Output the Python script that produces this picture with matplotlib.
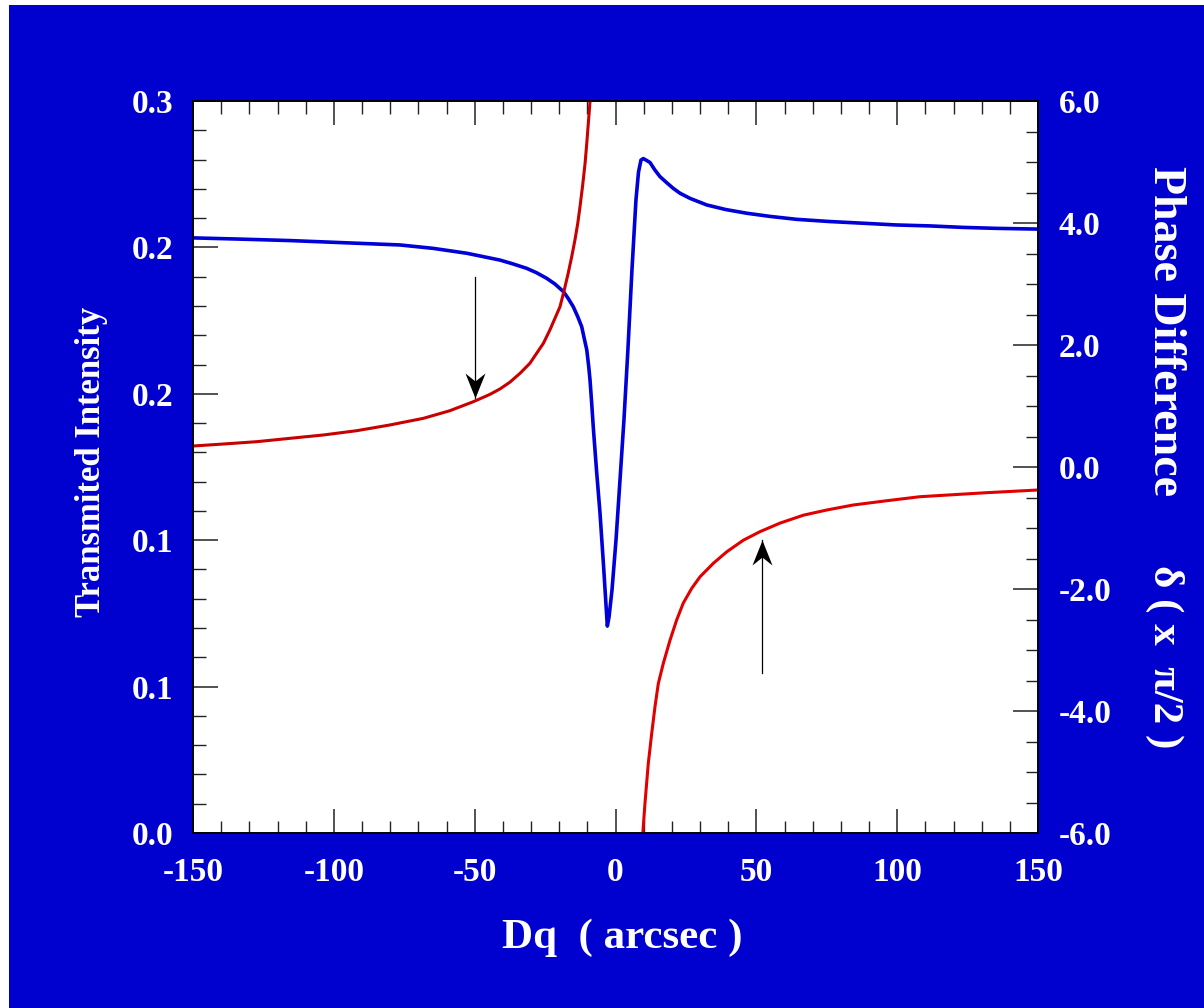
import matplotlib
matplotlib.use("Agg")
import matplotlib.pyplot as plt
from matplotlib.patches import Rectangle
from matplotlib.path import Path
from matplotlib.ticker import FixedLocator, MultipleLocator

plt.rcParams["axes.unicode_minus"] = False

# Transmitted intensity (left axis), blue curve
blue_x = [-150, -133.3, -115.6, -96.0, -76.5, -64.7, -52.8, -46.9, -41.0, -36.3,
          -31.5, -28.0, -24.4, -21.5, -18.5, -16.8, -15.0, -13.4, -12.0, -11.1,
          -10.2, -9.5, -9.05, -8.45, -7.9, -6.75, -5.5, -4.26, -3.37, -2.9,
          -2.3, -1.24, 0.18, 1.6, 3.0, 4.4, 5.84, 7.26, 8.17, 9.05,
          9.87, 10.8, 12.25, 14.0, 15.8, 18.2, 20.5, 22.9, 26.45, 32.4,
          39.2, 46.6, 54.9, 64.3, 76.1, 88.0, 99.6, 111.7, 123.4, 135.3, 150]
blue_y = [0.2439, 0.2434, 0.2428, 0.2419, 0.2410, 0.2396, 0.2376, 0.2362, 0.2348, 0.2332,
          0.2314, 0.2296, 0.2273, 0.2250, 0.2219, 0.2191, 0.2157, 0.2116, 0.2075, 0.2027,
          0.1980, 0.1911, 0.1857, 0.1761, 0.1665, 0.1488, 0.1311, 0.1098, 0.0934, 0.0848,
          0.0885, 0.0996, 0.1201, 0.1447, 0.1693, 0.1980, 0.2307, 0.2594, 0.2709, 0.2758,
          0.2764, 0.2758, 0.2748, 0.2717, 0.2690, 0.2665, 0.2642, 0.2622, 0.2601, 0.2574,
          0.2555, 0.2540, 0.2527, 0.2515, 0.2506, 0.2499, 0.2492, 0.2488, 0.2482, 0.2478, 0.2475]

# Phase difference (right axis), red curve, two branches
red_left_x = [-150, -139.2, -127.4, -115.6, -103.7, -91.9, -80.1, -68.2, -58.8, -50.5,
              -44.6, -41.0, -37.5, -33.9, -30.4, -28.0, -25.6, -23.3, -21.5, -19.7,
              -18.2, -16.8, -15.55, -14.4, -13.4, -12.6, -11.65, -10.8, -10.2, -9.65,
              -9.05, -8.85]
red_left_y = [0.344, 0.377, 0.415, 0.470, 0.525, 0.595, 0.689, 0.798, 0.923, 1.070,
              1.190, 1.280, 1.390, 1.536, 1.700, 1.864, 2.028, 2.246, 2.437, 2.628,
              2.901, 3.175, 3.447, 3.721, 3.995, 4.267, 4.623, 4.978, 5.306, 5.634,
              5.988, 6.4]
red_right_x = [9.5, 9.66, 10.47, 11.64, 12.85, 14.02, 15.2, 16.97, 19.35, 21.7,
               24.07, 27.05, 30.0, 34.7, 39.5, 45.4, 51.3, 58.4, 66.7, 75.0,
               84.4, 96.3, 108.1, 119.9, 131.8, 150]
red_right_y = [-6.4, -6.03, -5.51, -4.86, -4.37, -3.93, -3.55, -3.22, -2.84, -2.51,
               -2.23, -1.99, -1.80, -1.58, -1.39, -1.20, -1.06, -0.92, -0.79, -0.705,
               -0.623, -0.553, -0.487, -0.454, -0.421, -0.377]

x_ticks = [-150, -100, -50, 0, 50, 100, 150]
left_ticks = [0.0, 0.06, 0.12, 0.18, 0.24, 0.30]
left_tick_labels = ["0.0", "0.1", "0.1", "0.2", "0.2", "0.3"]
right_ticks = [-6, -4, -2, 0, 2, 4, 6]
right_tick_labels = ["-6.0", "-4.0", "-2.0", "0.0", "2.0", "4.0", "6.0"]

# arrows: (x, tail_y, tip_y) in left-axis units
arrows = [(-50, 0.2278, 0.1782), (52, 0.0657, 0.1201)]

BG = "#0000CF"
FONT = "Liberation Serif"


def head_marker(down):
    s = 1 if down else -1
    verts = [(0, 0), (-10, 25 * s), (0, 17 * s), (10, 25 * s), (0, 0)]
    codes = [Path.MOVETO, Path.LINETO, Path.LINETO, Path.LINETO, Path.CLOSEPOLY]
    return Path(verts, codes)


fig = plt.figure(figsize=(12.04, 10.08), dpi=100)
fig.patch.set_facecolor("white")
fig.patches.append(Rectangle((9 / 1204, 0), 1, 1 - 5 / 1008, transform=fig.transFigure,
                             facecolor=BG, edgecolor="none", zorder=-10))

ax = fig.add_axes([193 / 1204, 1 - 833 / 1008, 845 / 1204, 732 / 1008])
ax.set_facecolor("white")
ax2 = ax.twinx()

ax.plot(blue_x, blue_y, color="#0000D8", lw=2.6, zorder=3)
ax2.plot(red_left_x, red_left_y, color="#C80000", lw=2.2)
ax2.plot(red_right_x, red_right_y, color="#E00000", lw=2.2)

for x, y0, y1 in arrows:
    ax.plot([x, x], [y0, y1], color="black", lw=0.9, zorder=4)
    ax.plot([x], [y1], marker=head_marker(y1 < y0), markersize=36,
            color="black", markeredgewidth=0, zorder=5)

ax.set_xlim(-150, 150)
ax.set_ylim(0, 0.3)
ax2.set_ylim(-6, 6)

ax.xaxis.set_major_locator(FixedLocator(x_ticks))
ax.xaxis.set_minor_locator(MultipleLocator(10))
ax.yaxis.set_major_locator(FixedLocator(left_ticks))
ax.yaxis.set_minor_locator(MultipleLocator(0.012))
ax.set_yticklabels(left_tick_labels)
ax2.yaxis.set_major_locator(FixedLocator(right_ticks))
ax2.yaxis.set_minor_locator(MultipleLocator(0.5))
ax2.set_yticklabels(right_tick_labels)

ax.tick_params(axis="x", which="both", direction="in", top=True, bottom=True, color="#222222")
ax.tick_params(axis="x", which="major", length=17, width=1.1, pad=17)
ax.tick_params(axis="x", which="minor", length=9, width=1.0)
ax.tick_params(axis="y", which="both", direction="in", left=True, right=False, color="#222222")
ax.tick_params(axis="y", which="major", length=18, width=1.1, pad=14)
ax.tick_params(axis="y", which="minor", length=9, width=1.0)
ax2.tick_params(axis="y", which="both", direction="in", right=True, color="#222222")
ax2.tick_params(axis="y", which="major", length=18, width=1.1, pad=15)
ax2.tick_params(axis="y", which="minor", length=9, width=1.0)

for lab in ax.get_xticklabels() + ax.get_yticklabels() + ax2.get_yticklabels():
    lab.set_fontfamily(FONT)
    lab.set_fontweight("bold")
    lab.set_fontsize(24)
    lab.set_color("white")

for a in (ax, ax2):
    for sp in a.spines.values():
        sp.set_color("black")
        sp.set_linewidth(1.2)

fig.text(92 / 1204, 1 - 462 / 1008, "Transmited Intensity", rotation=90,
         ha="center", va="center", family=FONT, weight="bold", size=25, color="white")
fig.text(1165 / 1204, 1 - 331 / 1008, "Phase Difference", rotation=270,
         ha="center", va="center", family=FONT, weight="bold", size=33, color="white")
fig.text(1165 / 1204, 1 - 657 / 1008, "δ ( x  π/2 )", rotation=270,
         ha="center", va="center", family=FONT, weight="bold", size=31, color="white")
fig.text(622 / 1204, 1 - 938 / 1008, "Dq  ( arcsec )",
         ha="center", va="center", family=FONT, weight="bold", size=31, color="white")

fig.savefig("out.png", dpi=100, facecolor=fig.get_facecolor())
